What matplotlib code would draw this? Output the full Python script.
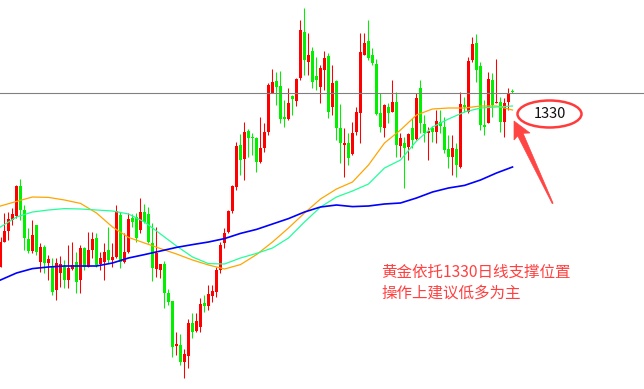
import numpy as np
import matplotlib
matplotlib.use('Agg')
import matplotlib.pyplot as plt
from matplotlib.patches import Ellipse, Polygon

plt.rcParams['font.family'] = ['Noto Sans CJK SC', 'DejaVu Sans']

# candle data (price scale anchored on the 1330 line)
opens = [
    1243.2, 1255.7, 1261.0, 1266.5, 1268.7, 1283.5, 1271.5, 1257.0, 1251.0, 1264.0,
    1245.7, 1253.2, 1245.2, 1243.7, 1231.5, 1239.9, 1243.2, 1236.5, 1242.0, 1245.7,
    1236.5, 1252.4, 1243.2, 1251.5, 1257.4, 1244.4, 1245.7, 1251.5, 1246.5, 1248.2,
    1269.0, 1245.7, 1250.7, 1267.5, 1268.2, 1261.5, 1270.7, 1269.4, 1255.2, 1242.0,
    1241.5, 1244.5, 1230.2, 1226.0, 1203.5, 1204.0, 1195.7, 1198.7, 1215.2, 1211.0,
    1213.2, 1225.2, 1223.7, 1228.7, 1230.7, 1241.5, 1255.0, 1260.7, 1271.2, 1283.2,
    1304.0, 1296.9, 1311.0, 1308.2, 1307.4, 1295.7, 1302.4, 1310.7, 1329.9, 1336.2,
    1333.5, 1317.9, 1316.9, 1328.5, 1326.2, 1337.4, 1360.7, 1345.7, 1351.2, 1338.5,
    1332.9, 1341.5, 1348.5, 1323.2, 1336.2, 1312.4, 1304.0, 1305.2, 1299.5, 1310.7,
    1320.2, 1349.0, 1356.0, 1349.0, 1344.5, 1320.2, 1312.4, 1323.2, 1320.7, 1325.7,
    1303.5, 1304.9, 1303.2, 1312.4, 1306.9, 1332.4, 1314.5, 1309.9, 1312.4, 1310.7,
    1315.7, 1313.2, 1301.9, 1298.2, 1301.9, 1293.2, 1324.0, 1320.7, 1346.5, 1355.2,
    1343.5, 1314.0, 1315.2, 1336.5, 1324.9, 1325.7, 1315.7, 1325.7, 1330.9]
highs = [
    1258.2, 1269.9, 1270.7, 1272.4, 1284.0, 1286.9, 1274.0, 1262.4, 1266.5, 1264.0,
    1254.9, 1254.0, 1249.0, 1247.4, 1247.4, 1248.5, 1246.5, 1254.0, 1255.7, 1250.7,
    1254.0, 1253.2, 1260.7, 1260.7, 1259.9, 1250.7, 1255.0, 1263.2, 1255.0, 1274.0,
    1270.7, 1260.0, 1270.0, 1269.5, 1270.0, 1277.5, 1274.5, 1273.2, 1265.0, 1263.0,
    1244.5, 1246.0, 1232.0, 1226.0, 1210.7, 1209.5, 1202.0, 1217.0, 1219.9, 1219.9,
    1227.5, 1229.0, 1234.0, 1234.0, 1243.2, 1255.7, 1262.5, 1271.5, 1284.0, 1305.7,
    1309.5, 1315.7, 1311.9, 1310.2, 1308.0, 1318.2, 1314.9, 1334.9, 1341.9, 1340.7,
    1341.2, 1326.5, 1332.4, 1329.0, 1337.4, 1366.5, 1372.4, 1359.9, 1353.2, 1348.2,
    1344.0, 1351.2, 1349.9, 1344.0, 1336.5, 1324.5, 1312.4, 1309.9, 1315.7, 1322.9,
    1359.9, 1359.9, 1366.5, 1352.4, 1346.9, 1329.9, 1324.5, 1324.9, 1336.5, 1330.7,
    1310.2, 1308.2, 1309.9, 1317.4, 1329.9, 1336.5, 1319.0, 1313.2, 1313.5, 1321.5,
    1321.5, 1318.2, 1309.0, 1309.0, 1304.9, 1330.7, 1328.2, 1348.2, 1358.2, 1359.5,
    1345.7, 1326.5, 1340.7, 1339.9, 1346.9, 1327.9, 1327.4, 1332.4, 1331.9]
lows = [
    1243.2, 1255.7, 1256.5, 1264.0, 1267.4, 1266.5, 1251.5, 1249.9, 1249.9, 1249.0,
    1240.7, 1239.9, 1236.5, 1229.0, 1226.5, 1233.2, 1232.4, 1232.4, 1241.5, 1229.9,
    1229.9, 1241.5, 1243.2, 1247.4, 1243.2, 1241.5, 1236.5, 1245.0, 1243.2, 1247.5,
    1242.5, 1245.0, 1250.0, 1263.2, 1255.7, 1260.0, 1265.0, 1255.0, 1236.0, 1238.2,
    1237.7, 1222.7, 1224.0, 1198.2, 1199.0, 1194.0, 1187.7, 1192.7, 1207.7, 1210.4,
    1210.7, 1220.4, 1221.5, 1225.7, 1228.2, 1239.9, 1252.5, 1260.0, 1270.0, 1281.5,
    1289.0, 1286.5, 1298.2, 1299.0, 1290.7, 1294.9, 1300.7, 1309.0, 1329.9, 1324.0,
    1315.2, 1313.2, 1316.5, 1319.0, 1323.5, 1336.5, 1339.0, 1339.0, 1332.4, 1331.5,
    1324.9, 1331.5, 1317.4, 1319.0, 1306.5, 1294.9, 1288.2, 1294.0, 1299.0, 1309.0,
    1305.2, 1349.0, 1346.5, 1344.0, 1319.0, 1310.7, 1308.2, 1314.9, 1320.7, 1298.2,
    1298.2, 1282.4, 1296.5, 1302.4, 1306.5, 1309.9, 1305.7, 1296.5, 1305.7, 1304.9,
    1309.9, 1299.9, 1292.4, 1289.0, 1288.2, 1292.4, 1320.7, 1320.2, 1345.7, 1335.7,
    1311.5, 1309.0, 1314.9, 1318.2, 1324.9, 1310.7, 1308.2, 1321.5, 1329.9]
closes = [
    1255.7, 1261.0, 1266.9, 1269.5, 1283.5, 1271.5, 1257.4, 1251.0, 1259.0, 1250.7,
    1253.2, 1244.9, 1246.9, 1230.7, 1244.9, 1244.4, 1236.5, 1242.4, 1244.0, 1235.7,
    1252.4, 1243.2, 1251.5, 1257.0, 1244.0, 1247.4, 1250.7, 1246.5, 1248.2, 1271.2,
    1245.7, 1250.7, 1267.0, 1265.7, 1257.5, 1270.7, 1265.7, 1255.7, 1242.7, 1250.0,
    1244.5, 1229.9, 1225.4, 1203.2, 1204.5, 1195.7, 1199.5, 1214.9, 1210.7, 1216.0,
    1224.4, 1223.7, 1229.5, 1231.0, 1241.5, 1254.0, 1260.0, 1271.2, 1283.5, 1303.5,
    1296.5, 1310.7, 1307.4, 1307.4, 1295.7, 1302.7, 1310.7, 1334.0, 1335.7, 1332.9,
    1316.9, 1316.9, 1325.2, 1326.9, 1336.9, 1361.5, 1346.5, 1349.0, 1335.7, 1336.5,
    1342.4, 1347.4, 1320.7, 1335.2, 1312.4, 1304.9, 1305.2, 1297.4, 1310.2, 1320.7,
    1350.4, 1354.9, 1347.4, 1344.9, 1319.5, 1313.2, 1324.0, 1319.9, 1325.7, 1304.0,
    1307.5, 1302.4, 1309.5, 1306.5, 1327.4, 1314.9, 1309.9, 1311.0, 1310.7, 1316.2,
    1313.5, 1301.5, 1297.9, 1302.4, 1294.0, 1324.4, 1322.9, 1346.0, 1354.5, 1341.5,
    1314.0, 1312.9, 1336.9, 1324.0, 1325.7, 1315.7, 1325.2, 1329.5, 1330.4]

# moving averages, read every 4th bar
ma_idx = list(range(0, 129, 4))
ma_orange = [1273.5, 1275.8, 1278.0, 1277.8, 1276.5, 1274.8, 1270.0, 1263.0, 1257.8,
             1255.0, 1252.2, 1249.5, 1246.5, 1244.0, 1242.0, 1244.2, 1249.2, 1255.5,
             1262.5, 1270.0, 1277.0, 1282.0, 1285.5, 1294.0, 1305.0, 1311.5, 1319.0,
             1322.0, 1322.5, 1322.5, 1323.5, 1323.5, 1321.5]
ma_green = [1263.0, 1268.0, 1270.5, 1271.5, 1272.2, 1272.0, 1271.5, 1271.0, 1269.5,
            1265.5, 1259.5, 1253.5, 1248.0, 1244.7, 1244.5, 1247.5, 1249.8, 1252.5,
            1257.5, 1265.5, 1273.0, 1278.0, 1281.0, 1284.5, 1292.5, 1296.5, 1306.0,
            1313.0, 1317.0, 1320.5, 1322.5, 1323.0, 1323.5]
ma_blue = [1236.5, 1240.0, 1242.2, 1243.0, 1243.5, 1243.5, 1243.5, 1245.0, 1247.5,
           1249.2, 1251.0, 1252.8, 1254.2, 1255.5, 1257.2, 1259.8, 1261.8, 1264.5,
           1267.2, 1270.5, 1273.0, 1274.0, 1273.2, 1273.5, 1274.5, 1275.0, 1277.5,
           1280.5, 1282.5, 1283.8, 1286.5, 1290.0, 1293.0]

level = 1330
note_lines = ['黄金依托1330日线支撑位置', '操作上建议低多为主']

W, H = 644, 389
fig = plt.figure(figsize=(W / 100, H / 100), dpi=100)
ax = fig.add_axes([0, 0, 1, 1])
ax.set_axis_off()

o = np.array(opens)
c = np.array(closes)
x = np.arange(len(o))
up = c >= o
cols = np.where(up, '#ff0000', '#00f000')

ax.vlines(x, lows, highs, colors=cols, linewidth=0.75, zorder=2)
bottom = np.minimum(o, c)
height = np.maximum(np.abs(c - o), 0.6)
ax.bar(x, height, bottom=bottom, width=0.75, color=cols, linewidth=0, zorder=3)

ax.plot(ma_idx, ma_orange, color='#ffa500', lw=0.9, zorder=4)
ax.plot(ma_idx, ma_green, color='#22ff99', lw=0.9, zorder=4)
ax.plot(ma_idx, ma_blue, color='#0000ff', lw=1.2, zorder=4)

ax.axhline(level, color='#808080', lw=0.8, zorder=5)

ax.set_xlim(-0.125, -0.125 + W / 4)
ax.set_ylim(1376.5 - H / 2, 1376.5)


def px(xp, yp):
    return (xp / W, 1 - yp / H)


# annotation: ellipse with level, arrow, note text
ell = Ellipse(px(549.5, 114), 64 / W, 27 / H, transform=fig.transFigure,
              fill=False, edgecolor='#ff3b3b', lw=1.8, zorder=6)
fig.add_artist(ell)
fig.text(*px(549.5, 114.5), str(level), ha='center', va='center',
         fontsize=10.5, color='#111111')

arrow_pts = [px(514, 121), px(530, 133), px(523.1, 133.3), px(553.1, 203.2),
             px(552.2, 203.6), px(517.7, 135.9), px(514, 140)]
fig.add_artist(Polygon(arrow_pts, closed=True, transform=fig.transFigure,
                       facecolor='#ff4444', edgecolor='#ff4444', lw=0.5))

fig.text(*px(381, 272), note_lines[0], ha='left', va='center',
         fontsize=11.2, color='#ff4040')
fig.text(*px(381, 293), note_lines[1], ha='left', va='center',
         fontsize=11.2, color='#ff4040')

fig.savefig('out.png', dpi=100)
